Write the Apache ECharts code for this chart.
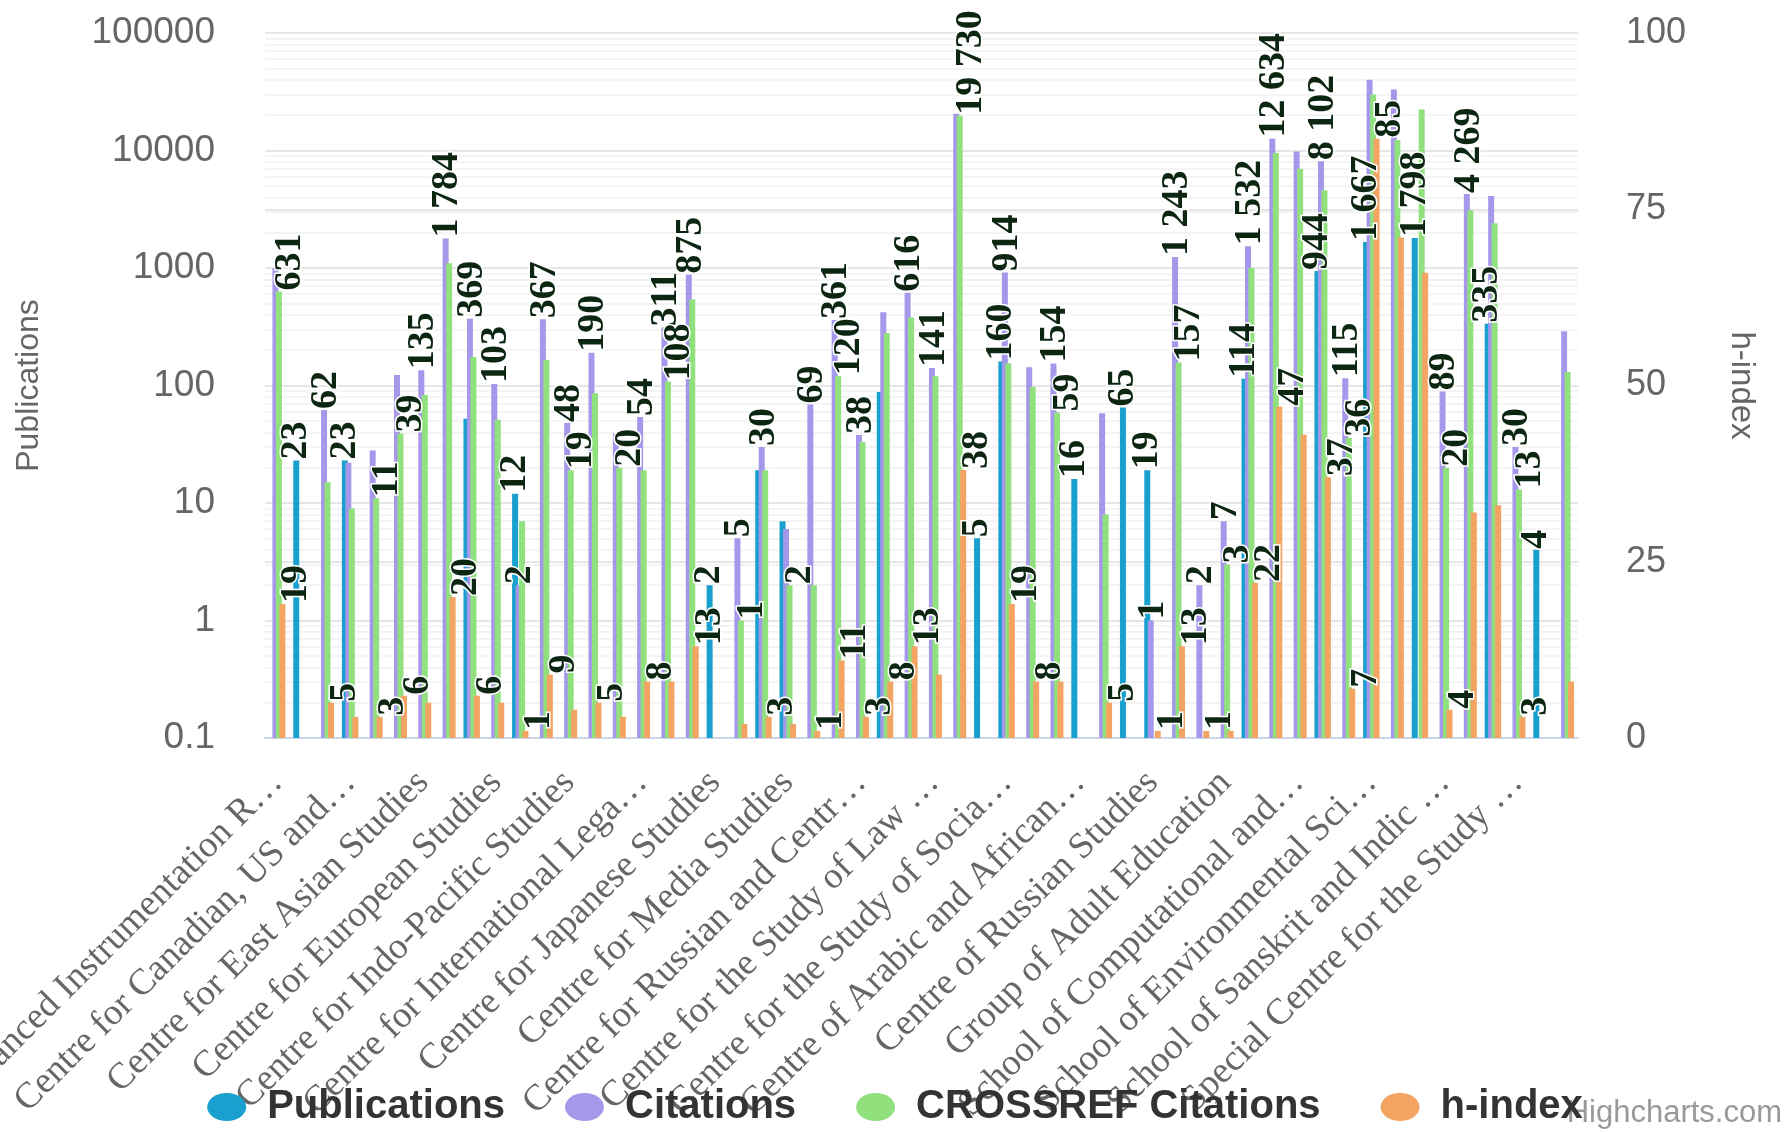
<!DOCTYPE html>
<html><head><meta charset="utf-8">
<script src="https://cdn.jsdelivr.net/npm/echarts@6/dist/echarts.min.js"></script>
<style>html,body{margin:0;padding:0;background:#fff}#c{width:1790px;height:1133px}</style>
</head><body><div id="c"></div><script>
const categories = [
 "Advanced Instrumentation Research Facility",
 "Atal Bihari Vajpayee School of Management and Entrepreneurship",
 "Centre for African Studies",
 "Centre for Canadian, US and Latin American Studies",
 "Centre for Chinese and South East Asian Studies",
 "Centre for Comparative Politics and Political Theory",
 "Centre for East Asian Studies",
 "Centre for Economic Studies and Planning",
 "Centre for English Studies",
 "Centre for European Studies",
 "Centre for French and Francophone Studies",
 "Centre for Historical Studies",
 "Centre for Indo-Pacific Studies",
 "Centre for Informal Sector and Labour Studies",
 "Centre for Inner Asian Studies",
 "Centre for International Legal Studies",
 "Centre for International Politics, Organization and Disarmament",
 "Centre for International Trade and Development",
 "Centre for Japanese Studies",
 "Centre for Law and Governance",
 "Centre for Linguistics",
 "Centre for Media Studies",
 "Centre for Molecular Medicine",
 "Centre for Philosophy",
 "Centre for Russian and Central Asian Studies",
 "Centre for Social Medicine and Community Health",
 "Centre for South Asian Studies",
 "Centre for the Study of Law and Governance",
 "Centre for the Study of Regional Development",
 "Centre for the Study of Science, Technology and Policy",
 "Centre for the Study of Social Exclusion and Inclusive Policy",
 "Centre for the Study of Social Systems",
 "Centre for West Asian Studies",
 "Centre of Arabic and African Studies",
 "Centre of Chinese and South East Asian Studies",
 "Centre of German Studies",
 "Centre of Russian Studies",
 "Centre of Spanish, Portuguese, Italian and Latin American Studies",
 "Computational Biology and Bioinformatics Unit",
 "Group of Adult Education",
 "Jawaharlal Nehru Institute of Advanced Study",
 "School of Biotechnology",
 "School of Computational and Integrative Sciences",
 "School of Computer and Systems Sciences",
 "School of Engineering",
 "School of Environmental Sciences",
 "School of Life Sciences",
 "School of Physical Sciences",
 "School of Sanskrit and Indic Studies",
 "School of Social Sciences",
 "Special Centre for Disaster Research",
 "Special Centre for the Study of North East India",
 "Special Centre for Tribal Studies",
 "University Science Instrumentation Centre"
];
const publications = [null,23,null,23,null,null,null,null,52,null,
 12,null,null,null,null,null,null,null,2,null,
 19,7,null,null,null,88,null,null,null,5,
 160,null,null,16,null,65,19,null,null,null,
 114,null,null,944,null,1667,null,1798,null,null,
 335,null,4,null];
const citations = [1000,null,62,22,28,123,135,1784,369,103,
 2,367,48,190,39,54,311,875,null,5,
 30,6,69,361,38,420,616,141,20500,null,
 914,143,154,null,58,null,1,1243,2,7,
 1532,12634,9800,8102,115,40000,33000,null,89,4269,
 4100,30,null,290];
const crossrefCitations = [631,null,15,9,11,39,83,1100,175,51,
 7,165,19,86,20,19,108,540,null,1,
 19,2,2,120,33,280,380,120,19730,null,
 155,97,59,null,8,null,null,157,null,3,
 1000,9500,7000,4600,36,30000,12300,22300,20,3100,
 2400,13,null,130];
const hIndex = [19,null,5,3,3,6,5,20,6,5,
 1,9,4,5,3,8,8,13,null,2,
 3,2,1,11,3,8,13,9,38,null,
 19,8,8,null,5,null,1,13,1,1,
 22,47,43,37,7,85,71,66,4,32,
 33,3,null,8];
const leftAxisMin = 0.1, leftAxisMax = 100000;
const rightTicks = [0, 25, 50, 75, 100];
const minorMultipliers = [2,3,4,5,6,7,8,9];
const decades = [0.1,1,10,100,1000,10000];
// which data labels are visible in the reference (category indexes)
const pubLabels = [1,3,10,18,29,30,33,35,36,40,43,45,47,50,52];
const citLabels = [2,6,7,8,9,10,11,12,13,15,16,17,19,20,22,23,24,26,27,30,32,36,37,38,39,40,41,43,44,48,49,51];
const crLabels = [0,4,5,12,14,16,19,21,23,28,32,37,39,44,48,51];
const hLabels = [0,2,4,5,7,8,10,11,13,15,17,20,22,23,24,25,26,28,30,31,34,36,37,38,40,41,43,44,45,48,51];

const minorGrid = [];
decades.forEach(d => minorMultipliers.forEach(m => minorGrid.push(+(d*m).toPrecision(3))));

function fmt(v){ return String(v).replace(/\B(?=(\d{3})+(?!\d))/g,' '); }
// label is rotated 90deg, so offset[1] moves it horizontally on screen
function mkLabel(idx, dx){
  const set = new Set(idx);
  return { show:true, position:'top', rotate:90, align:'left', verticalAlign:'middle', distance:1,
    offset:[0,dx], fontFamily:'Liberation Serif', fontWeight:'bold', fontSize:38, color:'#0d2612',
    textBorderColor:'#ffffff', textBorderWidth:3,
    formatter: p => (set.has(p.dataIndex) && p.value != null && p.value !== '-') ? fmt(p.value) : '' };
}
const ctx = document.createElement('canvas').getContext('2d');
ctx.font = '37px "Liberation Serif"';
const labelW = Math.floor(ctx.measureText('Centre for International Legal\u2026').width) - 1;

const colors = { pub:'#1aa0cf', cit:'#a598ea', cr:'#90e07e', h:'#f3a462' };
const barCommon = { type:'bar', barWidth:6, barGap:'-42%', barCategoryGap:'20%' };

const chart = echarts.init(document.getElementById('c'));
chart.setOption({
  animation:false,
  backgroundColor:'#ffffff',
  grid:{ left:265, top:33, width:1313, height:705, containLabel:false, outerBoundsMode:'none' },
  xAxis:{ type:'category', data:categories,
    axisLine:{ lineStyle:{ color:'#ccd6eb', width:2 } }, axisTick:{ show:false },
    axisLabel:{ interval:2, rotate:45, margin:39, fontFamily:'Liberation Serif', fontSize:37, color:'#666666',
      width:labelW, overflow:'truncate', ellipsis:'\u2026' },
    splitLine:{ show:false } },
  yAxis:[
    { type:'log', logBase:10, min:leftAxisMin, max:leftAxisMax, startValue:leftAxisMin, splitNumber:6,
      name:'Publications', nameLocation:'middle', nameGap:220,
      nameTextStyle:{ fontFamily:'Liberation Sans', fontSize:32, color:'#666666' },
      axisLine:{ show:false }, axisTick:{ show:false },
      axisLabel:{ margin:50, fontFamily:'Liberation Sans', fontSize:37, color:'#666666',
        formatter: v => String(Math.round(v*10)/10) },
      splitLine:{ lineStyle:{ color:'#e6e6e6', width:2 } } },
    { type:'value', min:rightTicks[0], max:rightTicks[rightTicks.length-1], interval:25, position:'right',
      name:'h-index', nameLocation:'middle', nameRotate:-90, nameGap:147,
      nameTextStyle:{ fontFamily:'Liberation Sans', fontSize:33, color:'#666666' },
      axisLine:{ show:false }, axisTick:{ show:false },
      axisLabel:{ margin:48, fontFamily:'Liberation Sans', fontSize:36, color:'#666666' },
      splitLine:{ lineStyle:{ color:'#e6e6e6', width:2 } } }
  ],
  legend:{ left:'center', top:1082, itemWidth:39, itemHeight:28, itemGap:60, symbolKeepAspect:false,
    icon:'path://M50,0 A50,50 0 1,1 50,100 A50,50 0 1,1 50,0 Z',
    textStyle:{ fontFamily:'Liberation Sans', fontWeight:'bold', fontSize:40, color:'#333333', padding:[0,0,0,16] },
    data:['Publications','Citations','CROSSREF Citations','h-index'] },
  graphic:[{ type:'text', right:8, top:1098, silent:true,
    style:{ text:'Highcharts.com', font:'31px "Liberation Sans"', fill:'#999999' } }],
  series:[
    Object.assign({}, barCommon, { name:'Publications', yAxisIndex:0, data:publications,
      itemStyle:{ color:colors.pub }, label:mkLabel(pubLabels,0) }),
    Object.assign({}, barCommon, { name:'Citations', yAxisIndex:0, data:citations,
      itemStyle:{ color:colors.cit }, label:mkLabel(citLabels,2),
      markLine:{ silent:true, symbol:'none', z:0, label:{ show:false },
        lineStyle:{ color:'#f1f1f1', width:1.5, type:'solid' },
        data: minorGrid.map(v => ({ yAxis:v })) } }),
    Object.assign({}, barCommon, { name:'CROSSREF Citations', yAxisIndex:0, data:crossrefCitations,
      itemStyle:{ color:colors.cr }, label:mkLabel(crLabels,11) }),
    Object.assign({}, barCommon, { name:'h-index', yAxisIndex:1, data:hIndex,
      itemStyle:{ color:colors.h }, label:mkLabel(hLabels,14) })
  ]
});
</script></body></html>
